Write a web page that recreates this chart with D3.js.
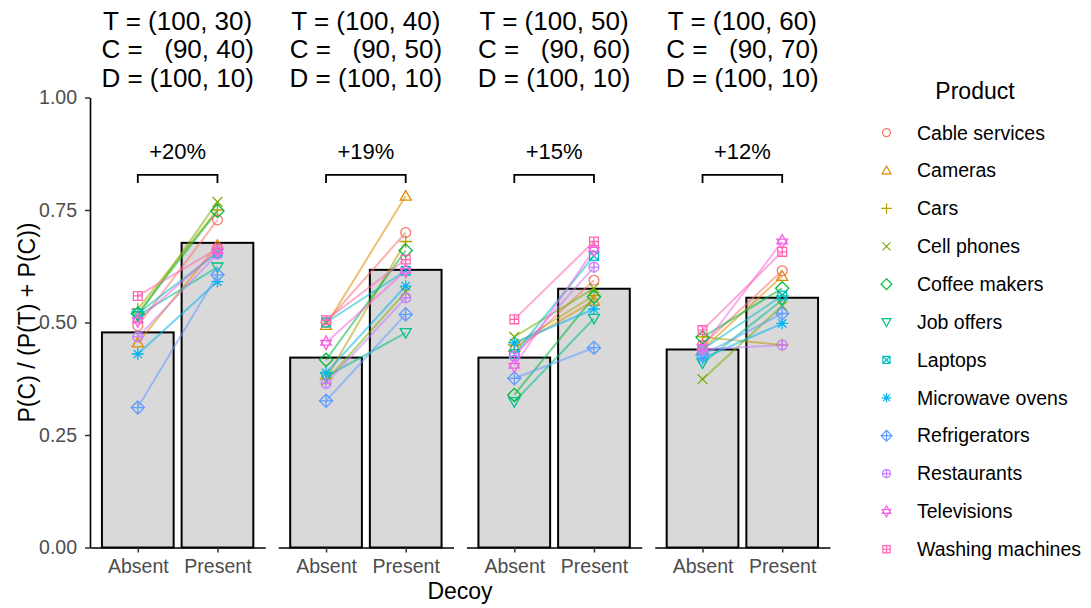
<!DOCTYPE html>
<html>
<head>
<meta charset="utf-8">
<script src="https://cdn.jsdelivr.net/npm/d3@7"></script>
<style>
  body { margin: 0; background: #fff; }
  text { font-family: "Liberation Sans", Arial, sans-serif; }
</style>
</head>
<body>
<svg id="chart"></svg>
<script>
(function() {

const products = [
    "Cable services", "Cameras", "Cars", "Cell phones", "Coffee makers", "Job offers",
    "Laptops", "Microwave ovens", "Refrigerators", "Restaurants", "Televisions", "Washing machines"
];
const productColors = [
    "#F8766D", "#DE8C00", "#B79F00", "#7CAE00", "#00BA38", "#00C08B",
    "#00BFC4", "#00B4F0", "#619CFF", "#C77CFF", "#F564E3", "#FF64B0"
];
// ggplot pch 1..12
const productShapes = [1, 2, 3, 4, 5, 6, 7, 8, 9, 10, 11, 12];

const decoyLevels = ["Absent", "Present"];

const panelLabels = [
    ["T = (100, 30)", "C =   (90, 40)", "D = (100, 10)"],
    ["T = (100, 40)", "C =   (90, 50)", "D = (100, 10)"],
    ["T = (100, 50)", "C =   (90, 60)", "D = (100, 10)"],
    ["T = (100, 60)", "C =   (90, 70)", "D = (100, 10)"]
];

// per panel, one value per product (same order as products)
const absentValues = [
    [0.493, 0.455, 0.530, 0.515, 0.520, 0.515, 0.520, 0.430, 0.311, 0.468, 0.505, 0.559],
    [0.500, 0.494, 0.375, 0.370, 0.417, 0.380, 0.500, 0.388, 0.326, 0.365, 0.455, 0.505],
    [0.430, 0.445, 0.450, 0.468, 0.339, 0.324, 0.430, 0.455, 0.376, 0.425, 0.404, 0.507],
    [0.450, 0.440, 0.468, 0.374, 0.467, 0.410, 0.440, 0.420, 0.428, 0.440, 0.445, 0.483]
];
const presentValues = [
    [0.728, 0.672, 0.750, 0.768, 0.748, 0.623, 0.655, 0.591, 0.606, 0.652, 0.660, 0.664],
    [0.700, 0.781, 0.680, 0.568, 0.660, 0.477, 0.615, 0.581, 0.518, 0.555, 0.615, 0.640],
    [0.594, 0.548, 0.560, 0.576, 0.557, 0.509, 0.648, 0.530, 0.444, 0.623, 0.662, 0.680],
    [0.615, 0.603, 0.450, 0.537, 0.576, 0.550, 0.560, 0.498, 0.520, 0.450, 0.680, 0.657]
];

const barAbsent = [0.478, 0.422, 0.422, 0.440];
const barPresent = [0.677, 0.617, 0.575, 0.555];
const diffLabels = ["+20%", "+19%", "+15%", "+12%"];

const yTicks = [0, 0.25, 0.5, 0.75, 1];


const W = 1091, H = 608;
const plotLeft = 90, plotRight = 830, plotTop = 97.5, plotBottom = 547.5;
const textGrey = "#4d4d4d";

const svg = d3.select("#chart")
    .attr("width", W)
    .attr("height", H);

svg.append("rect").attr("width", W).attr("height", H).attr("fill", "#fff");

const panelX = d3.scaleBand()
    .domain(d3.range(4))
    .range([plotLeft, plotRight])
    .paddingInner(0.069)
    .paddingOuter(0);

const x = d3.scalePoint()
    .domain(decoyLevels)
    .range([0, panelX.bandwidth()])
    .padding(0.6);

const barWidth = x.step() * 0.9;

const y = d3.scaleLinear()
    .domain([0, 1])
    .range([plotBottom, plotTop]);


function shapePath(k, r) {
    const p = d3.path();
    const line = (x1, y1, x2, y2) => { p.moveTo(x1, y1); p.lineTo(x2, y2); };
    const circle = rr => { p.moveTo(rr, 0); p.arc(0, 0, rr, 0, 2 * Math.PI); };
    const triUp = (rr, dy) => {
        p.moveTo(0, -rr + dy); p.lineTo(rr * 0.866, rr * 0.5 + dy); p.lineTo(-rr * 0.866, rr * 0.5 + dy); p.closePath();
    };
    const triDown = (rr, dy) => {
        p.moveTo(0, rr + dy); p.lineTo(rr * 0.866, -rr * 0.5 + dy); p.lineTo(-rr * 0.866, -rr * 0.5 + dy); p.closePath();
    };
    const diamond = rr => {
        p.moveTo(0, -rr); p.lineTo(rr, 0); p.lineTo(0, rr); p.lineTo(-rr, 0); p.closePath();
    };
    const square = s => { p.rect(-s, -s, 2 * s, 2 * s); };

    switch (k) {
        case 1: circle(r); break;
        case 2: triUp(r * 1.3, r * 0.2); break;
        case 3: line(-r * 1.3, 0, r * 1.3, 0); line(0, -r * 1.3, 0, r * 1.3); break;
        case 4: line(-r, -r, r, r); line(-r, r, r, -r); break;
        case 5: diamond(r * 1.35); break;
        case 6: triDown(r * 1.3, -r * 0.2); break;
        case 7: square(r * 0.9); line(-r * 0.9, -r * 0.9, r * 0.9, r * 0.9); line(-r * 0.9, r * 0.9, r * 0.9, -r * 0.9); break;
        case 8:
            line(-r * 1.2, 0, r * 1.2, 0); line(0, -r * 1.2, 0, r * 1.2);
            line(-r * 0.85, -r * 0.85, r * 0.85, r * 0.85); line(-r * 0.85, r * 0.85, r * 0.85, -r * 0.85);
            break;
        case 9: diamond(r * 1.35); line(-r * 1.35, 0, r * 1.35, 0); line(0, -r * 1.35, 0, r * 1.35); break;
        case 10: circle(r); line(-r, 0, r, 0); line(0, -r, 0, r); break;
        case 11: triUp(r * 1.25, -r * 0.15); triDown(r * 1.25, r * 0.15); break;
        case 12: square(r * 0.9); line(-r * 0.9, 0, r * 0.9, 0); line(0, -r * 0.9, 0, r * 0.9); break;
    }
    return p.toString();
}


// Y axis (left panel only)
const yAxis = svg.append("g")
    .attr("transform", `translate(${plotLeft},0)`)
    .call(d3.axisLeft(y).tickValues(yTicks).tickFormat(d3.format(".2f")).tickSize(5).tickSizeOuter(0).tickPadding(8));
yAxis.select(".domain").attr("stroke", "#000").attr("stroke-width", 1.6);
yAxis.selectAll(".tick line").attr("stroke", "#333").attr("stroke-width", 1.5);
yAxis.selectAll(".tick text")
    .attr("fill", textGrey)
    .style("font-size", "19.5px")
    .style("font-family", "\"Liberation Sans\", Arial, sans-serif");

svg.append("text")
    .attr("transform", `translate(27,${(plotTop + plotBottom) / 2}) rotate(-90)`)
    .attr("text-anchor", "middle")
    .attr("dy", "0.35em")
    .style("font-size", "23px")
    .text("P(C) / (P(T) + P(C))");


// Panels
d3.range(4).forEach(pi => {
    const g = svg.append("g")
        .attr("transform", `translate(${panelX(pi)},0)`);

    // strip labels
    panelLabels[pi].forEach((lab, li) => {
        g.append("text")
            .attr("x", panelX.bandwidth() / 2)
            .attr("y", 29.5 + li * 28.5)
            .attr("text-anchor", "middle")
            .style("font-size", "26px")
            .style("white-space", "pre")
            .attr("xml:space", "preserve")
            .text(lab);
    });

    // bars
    const barVals = [barAbsent[pi], barPresent[pi]];
    g.selectAll(".bar")
        .data(decoyLevels)
        .enter()
        .append("rect")
        .attr("class", "bar")
        .attr("x", d => x(d) - barWidth / 2)
        .attr("width", barWidth)
        .attr("y", (d, i) => y(barVals[i]))
        .attr("height", (d, i) => y(0) - y(barVals[i]))
        .attr("fill", "#d9d9d9")
        .attr("stroke", "#000")
        .attr("stroke-width", 2);

    // x axis
    const xAxis = g.append("g")
        .attr("transform", `translate(0,${plotBottom})`)
        .call(d3.axisBottom(x).tickSize(5).tickSizeOuter(0).tickPadding(7));
    xAxis.select(".domain").attr("stroke", "#000").attr("stroke-width", 1.6);
    xAxis.selectAll(".tick line").attr("stroke", "#333").attr("stroke-width", 1.5);
    xAxis.selectAll(".tick text")
        .attr("fill", textGrey)
        .style("font-size", "19.5px")
        .style("font-family", "\"Liberation Sans\", Arial, sans-serif");

    // product lines
    const rows = products.map((p, i) => ({
        i: i,
        a: absentValues[pi][i],
        b: presentValues[pi][i]
    }));

    g.selectAll(".pline")
        .data(rows)
        .enter()
        .append("line")
        .attr("class", "pline")
        .attr("x1", x("Absent"))
        .attr("x2", x("Present"))
        .attr("y1", d => y(d.a))
        .attr("y2", d => y(d.b))
        .attr("stroke", d => productColors[d.i])
        .attr("stroke-opacity", 0.55)
        .attr("stroke-width", 2);

    // points
    rows.forEach(d => {
        [["Absent", d.a], ["Present", d.b]].forEach(([lvl, v]) => {
            g.append("path")
                .attr("transform", `translate(${x(lvl)},${y(v)})`)
                .attr("d", shapePath(productShapes[d.i], 4.9))
                .attr("fill", "none")
                .attr("stroke", productColors[d.i])
                .attr("stroke-width", 1.3);
        });
    });

    // bracket + label
    const bx1 = x("Absent"), bx2 = x("Present");
    g.append("path")
        .attr("d", `M${bx1},${y(0.81)}V${y(0.828)}H${bx2}V${y(0.81)}`)
        .attr("fill", "none")
        .attr("stroke", "#000")
        .attr("stroke-width", 1.8);

    g.append("text")
        .attr("x", (bx1 + bx2) / 2)
        .attr("y", y(0.863))
        .attr("text-anchor", "middle")
        .style("font-size", "22px")
        .text(diffLabels[pi]);
});

svg.append("text")
    .attr("x", (plotLeft + plotRight) / 2)
    .attr("y", 599)
    .attr("text-anchor", "middle")
    .style("font-size", "23px")
    .text("Decoy");


// Legend
const legend = svg.append("g");
legend.append("text")
    .attr("x", 975)
    .attr("y", 99)
    .attr("text-anchor", "middle")
    .style("font-size", "23px")
    .text("Product");

products.forEach((p, i) => {
    const ly = 132.7 + i * 37.87;
    legend.append("path")
        .attr("transform", `translate(886.5,${ly})`)
        .attr("d", shapePath(productShapes[i], 4))
        .attr("fill", "none")
        .attr("stroke", productColors[i])
        .attr("stroke-width", 1.2);
    legend.append("text")
        .attr("x", 917)
        .attr("y", ly)
        .attr("dy", "0.35em")
        .style("font-size", "19.5px")
        .text(p);
});

})();
</script>
</body>
</html>
